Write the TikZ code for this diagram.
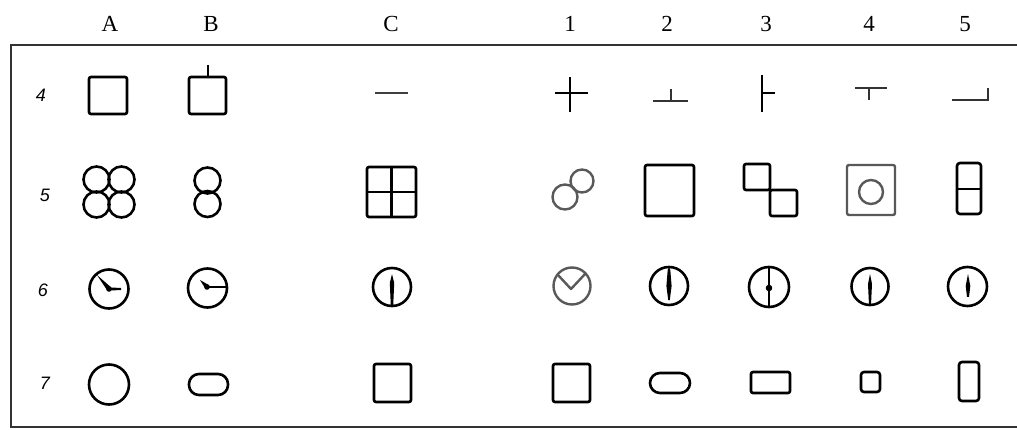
\documentclass[tikz,border=0pt]{standalone}
\usepackage{fontspec}
\setmainfont{Liberation Serif}
\setsansfont{Liberation Sans}
\begin{document}
\begin{tikzpicture}[x=1pt,y=-1pt,
  sym/.style={line width=2.6pt, rounded corners=2pt, black},
  symg/.style={line width=2.4pt, rounded corners=2pt, black!65},
  ln/.style={line width=2.4pt},
  frameline/.style={line width=2.8pt, black!80},
  hdr/.style={font=\fontsize{23}{23}\selectfont, inner sep=0pt},
  rowlab/.style={font=\sffamily\itshape\fontsize{18}{18}\selectfont, inner sep=0pt},
  hub/.style={fill=black}]
\useasboundingbox (0,0) rectangle (1017,430);
% frame
\coordinate (tl) at (11,45);
\coordinate (tr) at (1017,45);
\coordinate (bl) at (11,427);
\coordinate (br) at (1017,427);
\draw[frameline] (tr) -- (tl) -- (bl) -- (br);
% column headers
\node[hdr] (hA) at (110,24) {A};
\node[hdr] (hB) at (211,24) {B};
\node[hdr] (hC) at (391,24) {C};
\node[hdr] (h1) at (570,24) {1};
\node[hdr] (h2) at (667,24) {2};
\node[hdr] (h3) at (766,24) {3};
\node[hdr] (h4) at (869,24) {4};
\node[hdr] (h5) at (965,24) {5};
% row labels
\node[rowlab] (r4) at (41,95) {4};
\node[rowlab] (r5) at (45,195) {5};
\node[rowlab] (r6) at (43,290) {6};
\node[rowlab] (r7) at (45,383) {7};
% ---------- row 4 ----------
\draw[sym] (89,77) rectangle (127,114);
\draw[sym] (189,77) rectangle (226,114);
\draw[ln] (208,65) -- (208,77);
\draw[ln, black!75] (375,93) -- (408,93);
\draw[ln] (555,93) -- (588,93);
\draw[ln] (570,77) -- (570,112);
\draw[ln, black!80] (653,101) -- (688,101);
\draw[ln, black!80] (671,89) -- (671,101);
\draw[ln] (762,75) -- (762,112);
\draw[ln] (762,93) -- (775,93);
\draw[ln, black!80] (855,88) -- (887,88);
\draw[ln, black!80] (869,88) -- (869,100);
\draw[ln, black!80] (952,100) -- (988,100) -- (988,88);
% ---------- row 5 ----------
\foreach \cx/\cy in {96.5/179.5,121.5/179.5,96.5/204.5,121.5/204.5}
  \draw[sym] (\cx,\cy) circle[radius=13pt];
\draw[sym] (207.5,180.5) circle[radius=13pt];
\draw[sym] (207.5,204) circle[radius=13pt];
\draw[sym] (367,167) rectangle (416,217);
\draw[ln] (391.5,167) -- (391.5,217);
\draw[ln] (367,192) -- (416,192);
\draw[symg] (565,197) circle[radius=12.5pt];
\draw[symg] (582,181) circle[radius=11.5pt];
\draw[sym] (645,165) rectangle (694,216);
\draw[sym] (744,164) rectangle (770,190);
\draw[sym] (770,190) rectangle (797,216);
\draw[symg] (847,165) rectangle (895,215);
\draw[symg] (871,192) circle[radius=12pt];
\draw[sym, rounded corners=3pt] (957,163) rectangle (981,214);
\draw[ln] (957,189) -- (981,189);
% ---------- row 6 ----------
% A
\draw[sym] (109,289) circle[radius=19.5pt];
\fill (97,275) -- (111,287.3) -- (107.4,290.7) -- cycle;
\fill (109,287.4) -- (121,288) -- (121,290) -- (109,290.6) -- cycle;
\fill[hub] (109,289) circle[radius=2.8pt];
% B
\draw[sym] (207.5,288) circle[radius=19.5pt];
\fill (200,280) -- (209.2,285.3) -- (205.6,289) -- cycle;
\draw[ln] (207,287) -- (227,287);
\fill[hub] (207,287) circle[radius=2.8pt];
% C
\draw[sym] (392,287) circle[radius=19pt];
\fill (392,274) -- (394.2,283) -- (393.2,306) -- (390.8,306) -- (389.8,283) -- cycle;
% 1
\draw[symg] (572,286) circle[radius=18.5pt];
\draw[ln, black!65, line join=round] (558,275) -- (571,289) -- (586,273);
% 2
\draw[sym] (669,286) circle[radius=19pt];
\fill (669,267) -- (670.3,270) -- (671.6,286) -- (669.8,300) -- (668.2,300) -- (666.4,286) -- (667.7,270) -- cycle;
% 3
\draw[sym] (769,287) circle[radius=20pt];
\draw[ln] (769,267) -- (769,307);
\fill[hub] (769,288) circle[radius=3.3pt];
% 4
\draw[sym] (870,286.5) circle[radius=18.5pt];
\fill (870,274) -- (872,284) -- (871,305) -- (869,305) -- (868,284) -- cycle;
% 5
\draw[sym] (967.5,286.5) circle[radius=19.5pt];
\fill (968,274) -- (970.3,286) -- (969,297) -- (967,297) -- (965.7,286) -- cycle;
% ---------- row 7 ----------
\draw[sym] (109,384.5) circle[radius=20pt];
\draw[sym, rounded corners=10pt] (189,374) rectangle (228,395);
\draw[sym] (374,364) rectangle (411,402);
\draw[sym] (553,364) rectangle (590,402);
\draw[sym, rounded corners=10pt] (650,373) rectangle (690,393);
\draw[sym] (751,372) rectangle (790,393);
\draw[sym, rounded corners=3pt] (861,372) rectangle (880,392);
\draw[sym, rounded corners=3pt] (959,362) rectangle (979,401);
\end{tikzpicture}
\end{document}
